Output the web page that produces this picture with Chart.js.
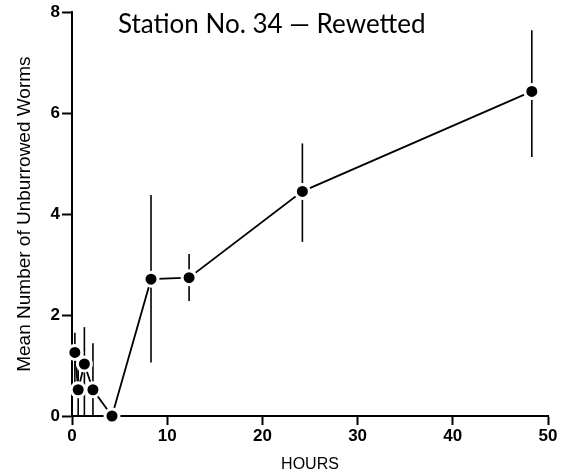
<!DOCTYPE html>
<html><head><meta charset="utf-8">
<script src="https://cdn.jsdelivr.net/npm/chart.js@4"></script>
<style>html,body{margin:0;padding:0;background:#fff}canvas{display:block}</style>
</head><body>
<canvas id="c" width="562" height="474"></canvas>
<script>
const hours = [0.3, 0.65, 1.3, 2.2, 4.2, 8.3, 12.3, 24.2, 48.3];
const meanWorms = [1.26, 0.52, 1.03, 0.52, 0, 2.71, 2.74, 4.45, 6.43];
const errLow = [0.5, 0, 0, 0, 0, 1.06, 2.28, 3.45, 5.13];
const errHigh = [1.65, 1.15, 1.76, 1.44, 0, 4.38, 3.21, 5.40, 7.64];
const xTicks = [0, 10, 20, 30, 40, 50];
const yTicks = [0, 2, 4, 6, 8];
const chartTitle = 'Station No. 34 \u2014 Rewetted';
const xTitle = 'HOURS';
const yTitle = 'Mean Number of Unburrowed Worms';

const errorBars = {
  id: 'errorBars',
  beforeDatasetsDraw(chart) {
    const {ctx, scales: {x, y}} = chart;
    ctx.save();
    ctx.strokeStyle = '#000';
    ctx.lineWidth = 1.6;
    hours.forEach((h, i) => {
      if (errHigh[i] === errLow[i]) return;
      const px = x.getPixelForValue(h);
      ctx.beginPath();
      ctx.moveTo(px, y.getPixelForValue(errLow[i]));
      ctx.lineTo(px, y.getPixelForValue(errHigh[i]));
      ctx.stroke();
    });
    ctx.restore();
  }
};

const innerTitle = {
  id: 'innerTitle',
  afterDraw(chart) {
    const {ctx, chartArea} = chart;
    ctx.save();
    ctx.fillStyle = '#000';
    ctx.font = '26px Lato';
    ctx.textAlign = 'left';
    ctx.textBaseline = 'alphabetic';
    ctx.fillText(chartTitle, chartArea.left + 46, chartArea.top + 21);
    ctx.restore();
  }
};

const tickFont = {family: 'Liberation Sans', size: 17, weight: 'bold'};

new Chart(document.getElementById('c'), {
  type: 'line',
  data: {
    datasets: [{
      data: hours.map((h, i) => ({x: h, y: meanWorms[i]})),
      borderColor: '#000',
      borderWidth: 1.8,
      tension: 0,
      pointRadius: 7,
      pointHoverRadius: 7,
      pointBackgroundColor: '#000',
      pointBorderColor: '#fff',
      pointBorderWidth: 3,
      clip: false
    }]
  },
  options: {
    responsive: false,
    animation: false,
    events: [],
    layout: {padding: {left: 0, right: 14, top: 12, bottom: 0}},
    plugins: {legend: {display: false}, tooltip: {enabled: false}},
    scales: {
      x: {
        type: 'linear', min: 0, max: 50,
        afterBuildTicks: s => { s.ticks = xTicks.map(v => ({value: v})); },
        afterFit: s => { s.height = 58; },
        grid: {drawOnChartArea: false, drawTicks: true, tickLength: 9, tickWidth: 2, tickColor: '#000'},
        border: {display: true, color: '#000', width: 2},
        ticks: {color: '#000', font: tickFont, padding: 1, maxRotation: 0},
        title: {display: true, text: xTitle, color: '#000', font: {family: 'Liberation Sans', size: 16}, padding: {top: 2, bottom: 0}}
      },
      y: {
        type: 'linear', min: 0, max: 8,
        afterBuildTicks: s => { s.ticks = yTicks.map(v => ({value: v})); },
        afterFit: s => { s.width = 72; },
        grid: {drawOnChartArea: false, drawTicks: true, tickLength: 10, tickWidth: 2, tickColor: '#000'},
        border: {display: true, color: '#000', width: 2},
        ticks: {color: '#000', font: tickFont, padding: 2},
        title: {display: true, text: yTitle, color: '#000', font: {family: 'Liberation Sans', size: 19}, padding: {top: 13, bottom: 0}}
      }
    }
  },
  plugins: [errorBars, innerTitle]
});
</script>
</body></html>
